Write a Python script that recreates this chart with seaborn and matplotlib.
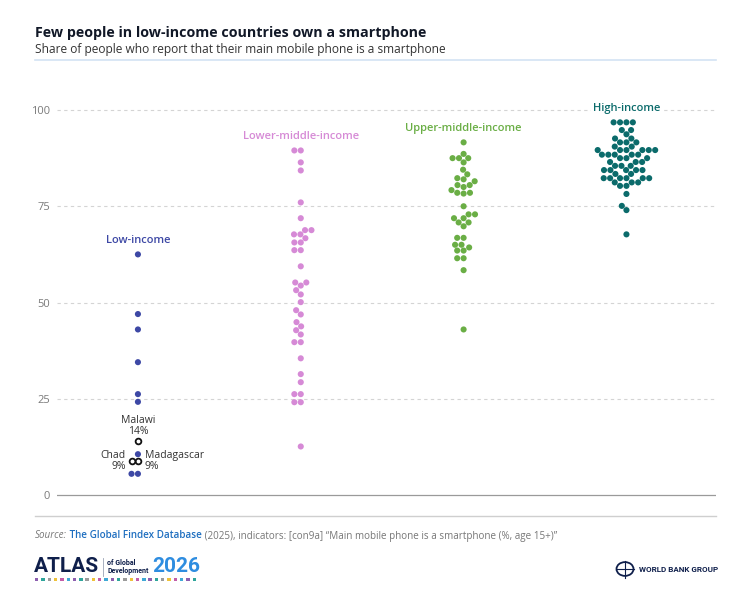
import numpy as np
import pandas as pd
import matplotlib
matplotlib.use("Agg")
import matplotlib.pyplot as plt
from matplotlib.patches import Rectangle, Circle
from matplotlib.lines import Line2D
from matplotlib.colors import to_rgba
import seaborn as sns

# ---------------- data ----------------
groups = ["Low-income", "Lower-middle-income", "Upper-middle-income", "High-income"]

low_income = [62.5, 47.0, 43.0, 34.5, 26.2, 24.2, 14.0, 10.6, 8.9, 8.9, 5.5, 5.5]
low_income_names = ["", "", "", "", "", "", "Malawi", "", "Chad", "Madagascar", "", ""]
low_income_labels = ["", "", "", "", "", "", "14%", "", "9%", "9%", "", ""]

lower_middle = [89.5, 89.5, 86.4, 84.3, 76.0, 71.9, 68.8, 68.8, 67.7, 67.7, 66.7,
                65.6, 65.6, 63.6, 63.6, 59.4, 55.2, 55.2, 54.4, 53.2, 52.1, 50.1,
                48.0, 46.9, 44.9, 43.8, 42.8, 41.7, 39.7, 39.7, 35.5, 31.4, 29.3,
                26.2, 26.2, 24.1, 24.1, 12.6]

upper_middle = [91.6, 88.6, 87.5, 87.5, 87.5, 86.4, 84.5, 83.3, 82.3, 82.0, 81.5,
                80.5, 80.5, 80.0, 79.2, 78.5, 78.5, 78.3, 75.0, 72.9, 72.9, 71.9,
                71.9, 70.8, 70.8, 69.8, 66.8, 66.8, 65.0, 65.0, 64.3, 63.5, 63.5,
                61.5, 61.5, 58.4, 43.0]

high = [96.8, 96.8, 96.8, 96.8, 94.8, 94.8, 93.7, 92.6, 92.6, 91.6, 91.6, 91.6,
        90.5, 90.5, 89.6, 89.6, 89.6, 89.6, 89.6, 89.6, 88.4, 88.4, 88.4, 88.4,
        88.4, 87.5, 87.5, 87.5, 86.5, 86.5, 86.5, 85.5, 85.5, 85.5, 84.4, 84.4,
        84.4, 84.4, 84.4, 83.4, 83.4, 82.3, 82.3, 82.3, 82.3, 82.3, 82.3, 81.2,
        81.2, 81.2, 80.3, 80.3, 78.2, 75.1, 74.0, 67.7]

yticks = [0, 25, 50, 75, 100]
ytick_labels = ["0", "25", "50", "75", "100"]

group_colors = ["#3d48a5", "#d68ad6", "#6aae45", "#0b6b6b"]

series = [low_income, lower_middle, upper_middle, high]
rows = []
for g, vals in zip(groups, series):
    for i, v in enumerate(vals):
        name = low_income_names[i] if g == "Low-income" else ""
        rows.append({"group": g, "value": v, "country": name})
df = pd.DataFrame(rows)

# ---------------- figure ----------------
W, H = 751, 609
fig = plt.figure(figsize=(W / 100, H / 100), dpi=100)
fig.patch.set_facecolor("white")
plt.rcParams["font.family"] = ["Open Sans", "DejaVu Sans"]

def fx(px):
    return px / W

def fy(py):
    return 1 - py / H

ax = fig.add_axes([fx(57), fy(505), (716 - 57) / W, (505 - 80) / H])

DOT = 4.4
sns.swarmplot(data=df, x="group", y="value", hue="group", order=groups,
              hue_order=groups, palette=group_colors, size=DOT, linewidth=0,
              legend=False, ax=ax, zorder=3)

# highlighted low-income countries drawn as open circles (overlaid below)
coll = ax.collections[0]
n = len(low_income)
fc = np.tile(to_rgba(group_colors[0]), (n, 1))
hi_idx = [i for i, nm in enumerate(low_income_names) if nm]
for i in hi_idx:
    fc[i] = to_rgba("white")
coll.set_facecolors(fc)

ax.set_xlim(-0.497, 3.55)
ax.set_ylim(-2.6, 107.8)
ax.set_autoscale_on(False)
for s in ax.spines.values():
    s.set_visible(False)
ax.set_xticks([])
ax.set_xlabel("")
ax.set_ylabel("")
ax.set_yticks(yticks)
ax.set_yticklabels(ytick_labels, color="#7a7a7a", fontsize=8)
ax.tick_params(axis="y", length=0, pad=5)

for t in yticks:
    if t == 0:
        ax.axhline(t, color="#9a9a9a", lw=0.9, zorder=1)
    else:
        ax.axhline(t, color="#d4d4d4", lw=0.8, ls=(0, (3, 3)), zorder=1)

# category labels
for i, (g, vals, c) in enumerate(zip(groups, series, group_colors)):
    ax.text(i, max(vals) + 3.7, g, ha="center", va="center", color=c,
            fontsize=8, fontweight="semibold", zorder=4,
            bbox=dict(facecolor="white", edgecolor="none", pad=1.0))

# open circles + labels for highlighted countries
fig.canvas.draw()
offs = np.asarray(coll.get_offsets())
hx = [offs[i][0] for i in hi_idx]
hy = [offs[i][1] for i in hi_idx]
ax.scatter(hx, hy, s=17, facecolor="white", edgecolor="#111111",
           linewidth=1.3, zorder=5)
pair_x = [offs[i][0] for i in hi_idx if low_income_names[i] != "Malawi"]
for i in hi_idx:
    nm = low_income_names[i]
    x, y = offs[i]
    lab = f"{nm}\n{low_income_labels[i]}"
    if nm == "Malawi":
        ax.annotate(lab, (x, y), xytext=(0, 2.8), textcoords="offset points",
                    ha="center", va="bottom", fontsize=7.5, color="#333333",
                    linespacing=1.05, zorder=5)
    elif nm == "Chad":
        ax.annotate(lab, (min(pair_x), y), xytext=(-4.0, 0), textcoords="offset points",
                    ha="right", va="center", fontsize=7.5, color="#333333",
                    linespacing=1.05, multialignment="right", zorder=5)
    else:
        ax.annotate(lab, (max(pair_x), y), xytext=(5.0, 0), textcoords="offset points",
                    ha="left", va="center", fontsize=7.5, color="#333333",
                    linespacing=1.05, multialignment="left", zorder=5)

# ---------------- title / subtitle ----------------
fig.text(fx(35), fy(33), "Few people in low-income countries own a smartphone",
         ha="left", va="center", fontsize=10.3, fontweight="bold", color="#111827")
fig.text(fx(35), fy(50), "Share of people who report that their main mobile phone is a smartphone",
         ha="left", va="center", fontsize=8.6, color="#333333")
fig.add_artist(Line2D([fx(35), fx(716)], [fy(60), fy(60)], color="#d3e3f3", lw=1.2))

# ---------------- footer ----------------
fig.add_artist(Line2D([fx(35), fx(716)], [fy(516), fy(516)], color="#cfcfcf", lw=1.0))

renderer = fig.canvas.get_renderer()
runs = [
    ("Source:", dict(color="#777777", style="italic")),
    (" The Global Findex Database", dict(color="#1f6fc0", fontweight="semibold")),
    (" (2025), indicators: [con9a] \u201cMain mobile phone is a smartphone (%, age 15+)\u201d",
     dict(color="#777777")),
]
xcur = 35
for txt, kw in runs:
    t = fig.text(fx(xcur), fy(536), txt, ha="left", va="center", fontsize=7.15, **kw)
    bb = t.get_window_extent(renderer)
    xcur = bb.x1

# ATLAS logo
t = fig.text(fx(34), fy(567), "ATLAS", ha="left", va="center", fontsize=15,
             fontweight="bold", color="#0f1f4b", family="Roboto")
bb = t.get_window_extent(renderer)
xa = bb.x1 + 4
fig.add_artist(Line2D([fx(xa), fx(xa)], [fy(558), fy(576)], color="#9aa3b5", lw=0.6))
t2 = fig.text(fx(xa + 4), fy(567), "of Global\nDevelopment", ha="left", va="center",
              fontsize=5, fontweight="bold", color="#0f1f4b", family="Roboto",
              linespacing=1.1)
bb2 = t2.get_window_extent(renderer)
fig.text(fx(bb2.x1 + 4), fy(567), "2026", ha="left", va="center", fontsize=15,
         fontweight="bold", color="#2e8de0", family="Roboto")
sq_colors = ["#8d5fb0", "#2fa59b", "#9b9b9b", "#efc23a", "#c45da8", "#3fa9d6"]
for k in range(26):
    x0 = 35 + k * 6.3
    fig.add_artist(Rectangle((fx(x0), fy(581)), 3.4 / W, 3.4 / H,
                             transform=fig.transFigure, facecolor=sq_colors[k % 6],
                             edgecolor="none"))

# World Bank logo
cx, cy, r = 625, 569, 8.5
fig.add_artist(Circle((fx(cx), fy(cy)), r / W, transform=fig.transFigure,
                      facecolor="white", edgecolor="#0f1f4b", lw=1.3))
fig.add_artist(Line2D([fx(cx - r), fx(cx + r)], [fy(cy), fy(cy)], color="#0f1f4b", lw=0.8))
fig.add_artist(Line2D([fx(cx), fx(cx)], [fy(cy - r), fy(cy + r)], color="#0f1f4b", lw=0.8))
fig.text(fx(639), fy(569), "WORLD BANK GROUP", ha="left", va="center", fontsize=5.8,
         fontweight="bold", color="#0f1f4b", family="Roboto")

fig.savefig("out.png", dpi=100, facecolor="white")
